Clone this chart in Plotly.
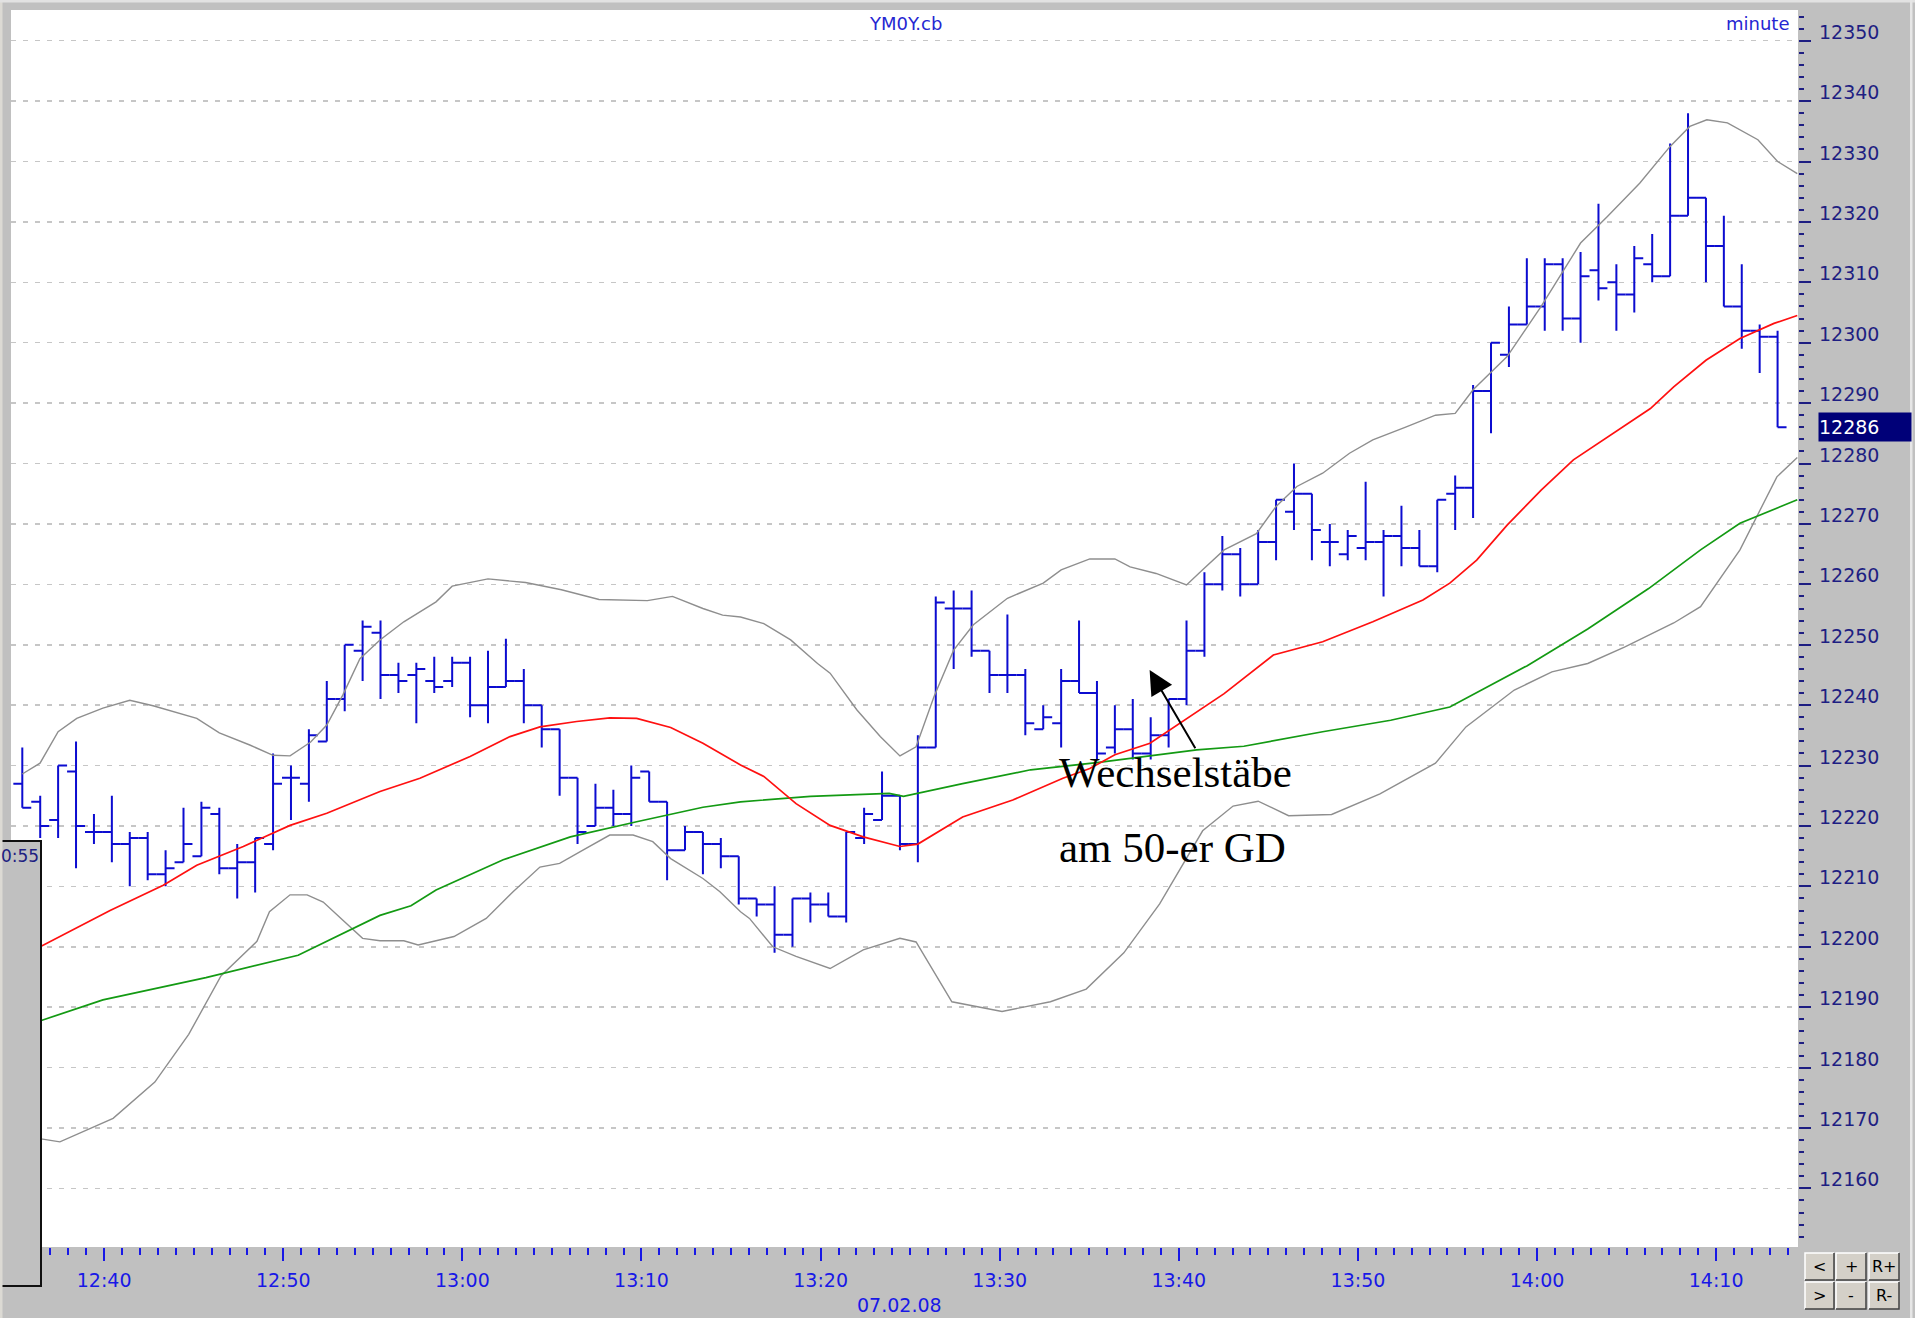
import plotly.graph_objects as go

# ---------------- data ----------------
time_labels = ["12:40", "12:50", "13:00", "13:10", "13:20", "13:30", "13:40", "13:50", "14:00", "14:10"]
first_label_bar = 4.57          # the 12:40 tick sits between bar 4 and bar 5
date_label = "07.02.08"
symbol = "YM0Y.cb"
period = "minute"

opens = [12227, 12224, 12221, 12229, 12219, 12219, 12217, 12218, 12212, 12214,
         12215, 12222, 12213, 12214, 12217, 12228, 12227, 12234, 12241, 12249,
         12252, 12245, 12245, 12244, 12244, 12247, 12240, 12243, 12244, 12240,
         12236, 12228, 12220, 12223, 12222, 12229, 12224, 12216, 12219, 12217,
         12215, 12208, 12207, 12202, 12208, 12207, 12205, 12218, 12221, 12225,
         12217, 12233, 12256, 12256, 12249, 12245, 12245, 12236, 12237, 12244,
         12242, 12233, 12236, 12232, 12235, 12241, 12249, 12260, 12265, 12260,
         12267, 12272, 12275, 12267, 12265, 12266, 12267, 12268, 12266, 12263,
         12275, 12276, 12292, 12298, 12303, 12306, 12313, 12304, 12312, 12310,
         12308, 12313, 12311, 12321, 12324, 12316, 12306, 12302, 12301]
highs = [12233, 12225, 12230, 12234, 12222, 12225, 12219, 12219, 12216, 12223,
         12224, 12223, 12217, 12218, 12232, 12230, 12236, 12244, 12250, 12254,
         12254, 12247, 12247, 12248, 12248, 12248, 12249, 12251, 12246, 12240,
         12236, 12228, 12227, 12226, 12230, 12229, 12224, 12220, 12219, 12218,
         12215, 12208, 12210, 12208, 12209, 12209, 12219, 12223, 12229, 12225,
         12235, 12258, 12259, 12259, 12249, 12255, 12246, 12240, 12246, 12254,
         12244, 12240, 12241, 12238, 12241, 12254, 12262, 12268, 12266, 12269,
         12274, 12280, 12275, 12270, 12269, 12277, 12269, 12273, 12269, 12274,
         12278, 12293, 12300, 12306, 12314, 12314, 12314, 12315, 12323, 12313,
         12316, 12318, 12333, 12338, 12324, 12321, 12313, 12303, 12302]
lows = [12223, 12218, 12218, 12213, 12217, 12214, 12210, 12211, 12210, 12214,
        12215, 12212, 12208, 12209, 12216, 12221, 12224, 12234, 12239, 12244,
        12241, 12242, 12237, 12242, 12243, 12238, 12237, 12243, 12237, 12233,
        12225, 12217, 12220, 12220, 12220, 12224, 12211, 12216, 12212, 12213,
        12207, 12205, 12199, 12200, 12204, 12205, 12204, 12217, 12221, 12216,
        12214, 12233, 12246, 12248, 12242, 12242, 12235, 12236, 12233, 12242,
        12231, 12232, 12231, 12231, 12233, 12240, 12248, 12259, 12258, 12260,
        12264, 12269, 12264, 12263, 12264, 12264, 12258, 12263, 12263, 12262,
        12269, 12271, 12285, 12296, 12303, 12302, 12302, 12300, 12307, 12302,
        12305, 12310, 12311, 12321, 12310, 12306, 12299, 12295, 12286]
closes = [12223, 12220, 12230, 12220, 12219, 12217, 12218, 12212, 12213, 12217,
          12223, 12213, 12214, 12218, 12227, 12228, 12235, 12241, 12250, 12253,
          12245, 12244, 12246, 12243, 12247, 12240, 12243, 12244, 12240, 12236,
          12228, 12219, 12223, 12222, 12228, 12224, 12216, 12219, 12217, 12215,
          12208, 12207, 12202, 12208, 12207, 12205, 12219, 12222, 12225, 12217,
          12233, 12257, 12256, 12249, 12245, 12245, 12237, 12238, 12244, 12242,
          12232, 12236, 12232, 12235, 12241, 12249, 12260, 12265, 12260, 12267,
          12274, 12275, 12269, 12267, 12268, 12267, 12268, 12266, 12263, 12274,
          12276, 12292, 12300, 12303, 12306, 12313, 12304, 12311, 12309, 12308,
          12314, 12311, 12321, 12324, 12316, 12306, 12302, 12301, 12286]

# red moving average (sampled along the bar index)
ma_red_bar = [0, 1.0, 4.9, 7.87, 9.74, 12.34, 14.95, 17.0, 19.97, 22.2, 25.0, 27.23, 28.9,
              30.95, 32.8, 34.3, 36.2, 38.0, 40.1, 41.4, 43.2, 45.1, 46.95, 49.0, 50.0,
              52.5, 55.3, 58.1, 59.6, 61.0, 62.96, 64.8, 67.1, 69.85, 72.6, 75.4, 78.2,
              79.7, 81.2, 82.9, 84.8, 86.6, 88.5, 90.9, 92.2, 94.0, 95.9, 97.8, 99.1]
ma_red_val = [12199.4, 12200.0, 12206.0, 12210.2, 12213.5, 12216.6, 12220.1, 12222.1, 12225.7,
              12227.9, 12231.5, 12234.8, 12236.4, 12237.3, 12237.9, 12237.8, 12236.3, 12233.7,
              12230.1, 12228.2, 12223.7, 12220.1, 12218.2, 12216.6, 12217.0, 12221.5, 12224.3,
              12227.9, 12229.5, 12231.8, 12233.7, 12237.3, 12241.9, 12248.3, 12250.5, 12253.8,
              12257.4, 12260.2, 12264.0, 12269.8, 12275.6, 12280.6, 12284.4, 12289.1, 12292.7,
              12297.1, 12300.7, 12303.2, 12304.5]

# green 50-period average ("50-er GD")
ma_green_bar = [0, 1.06, 4.5, 10.25, 15.4, 19.97, 21.7, 23.1, 26.85, 30.6, 34.3, 38.0, 40.1,
                44.0, 48.4, 49.2, 52.5, 56.3, 60.0, 65.57, 68.2, 72.6, 76.4, 79.7, 84.0,
                87.4, 90.8, 93.7, 95.9, 99.1]
ma_green_val = [12187.5, 12187.8, 12191.2, 12194.9, 12198.6, 12205.2, 12206.8, 12209.4, 12214.4,
                12218.2, 12220.7, 12223.1, 12224.0, 12224.9, 12225.4, 12224.9, 12227.0, 12229.3,
                12230.5, 12232.6, 12233.2, 12235.6, 12237.5, 12239.7, 12246.5, 12252.6, 12259.3,
                12265.7, 12270.1, 12274.0]

# upper Bollinger band
bb_up_bar = [0, 0.99, 2.0, 3.04, 4.5, 6.0, 7.3, 9.74, 11.0, 12.7, 14.0, 14.95, 16.1, 17.0,
             17.9, 18.85, 19.97, 21.3, 23.1, 24.0, 26.0, 28.1, 30.1, 32.2, 34.9, 36.3, 38.0,
             39.1, 40.1, 41.4, 42.9, 44.4, 45.1, 46.6, 47.9, 49.0, 49.9, 50.9, 52.0, 53.1,
             55.0, 57.0, 58.0, 59.6, 61.0, 61.85, 63.3, 65.0, 65.9, 67.1, 68.9, 70.0, 71.16,
             72.6, 74.1, 75.4, 77.2, 78.9, 80.0, 81.0, 82.9, 84.8, 87.0, 88.5, 90.3, 92.0,
             93.1, 94.05, 95.2, 96.9, 98.0, 99.1]
bb_up_val = [12228.6, 12230.4, 12235.6, 12237.8, 12239.5, 12240.8, 12239.9, 12237.8, 12235.4,
             12233.4, 12231.7, 12231.6, 12233.9, 12236.7, 12241.7, 12247.7, 12250.8, 12253.8,
             12257.1, 12259.7, 12260.9, 12260.3, 12259.1, 12257.5, 12257.3, 12258.0, 12256.0,
             12254.9, 12254.6, 12253.5, 12250.8, 12246.9, 12245.3, 12239.2, 12234.8, 12231.6,
             12233.1, 12241.4, 12249.1, 12253.3, 12257.7, 12260.2, 12262.4, 12264.2, 12264.2,
             12262.9, 12261.8, 12259.9, 12262.4, 12265.7, 12268.4, 12272.9, 12276.2, 12278.4,
             12281.7, 12283.9, 12286.0, 12288.0, 12288.3, 12292.2, 12297.7, 12306.0, 12316.5,
             12320.9, 12326.4, 12332.5, 12335.8, 12336.9, 12336.4, 12333.6, 12330.0, 12328.0]

# lower Bollinger band
bb_lo_bar = [0, 1.05, 2.1, 5.07, 7.4, 9.29, 11.1, 13.1, 13.8, 14.95, 15.9, 16.8, 17.9, 19.0,
             19.97, 21.3, 22.1, 24.1, 25.9, 27.4, 28.9, 30.0, 31.3, 32.8, 34.1, 35.2, 36.2,
             38.0, 38.95, 40.1, 40.6, 41.9, 43.2, 45.1, 46.95, 49.0, 49.9, 50.8, 51.9, 54.7,
             57.4, 59.4, 61.5, 63.5, 65.9, 67.6, 69.0, 70.7, 73.1, 75.8, 78.9, 80.6, 83.3,
             85.4, 87.4, 89.45, 92.2, 93.7, 95.9, 97.96, 99.1]
bb_lo_val = [12169.0, 12168.2, 12167.7, 12171.6, 12177.6, 12185.5, 12195.2, 12200.9, 12205.8,
             12208.6, 12208.6, 12207.4, 12204.4, 12201.4, 12201.0, 12201.0, 12200.3, 12201.7,
             12204.7, 12209.1, 12213.2, 12213.8, 12216.0, 12218.5, 12218.5, 12217.4, 12214.6,
             12211.3, 12209.1, 12205.8, 12204.7, 12200.0, 12198.4, 12196.4, 12199.5, 12201.4,
             12200.8, 12196.4, 12190.9, 12189.3, 12190.9, 12193.0, 12199.0, 12207.1, 12219.2,
             12223.3, 12224.1, 12221.7, 12221.9, 12225.3, 12230.4, 12236.4, 12242.5, 12245.5,
             12246.9, 12249.6, 12253.6, 12256.3, 12265.7, 12277.8, 12281.0]

y_ticks = list(range(12160, 12351, 10))
note_line1 = "Wechselstäbe"
note_line2 = "am 50-er GD"
cursor_time = "0:55"
buttons = [["<", "+", "R+"], [">", "-", "R-"]]

# ---------------- styling / layout ----------------
W, H = 1915, 1318
L, R, T, B = 11, 1798, 10, 1247          # plot area in pixels


def fx(p):
    return (p - L) / (R - L)


def fy(p):
    return (B - p) / (B - T)


BAR = "#0c0cd0"
NAVY = "#1e1e82"
BLUE = "#1818e6"
FONT = "DejaVu Sans"

bar_x = list(range(len(opens)))
tickvals = [first_label_bar + 10 * k for k in range(len(time_labels))]

fig = go.Figure()
fig.add_trace(go.Ohlc(
    x=bar_x, open=opens, high=highs, low=lows, close=closes,
    increasing=dict(line=dict(color=BAR, width=2)),
    decreasing=dict(line=dict(color=BAR, width=2)),
    tickwidth=0.5, hoverinfo="skip", showlegend=False))

for bx, by, col, w in [(bb_up_bar, bb_up_val, "#8e8e8e", 1.4),
                       (bb_lo_bar, bb_lo_val, "#8e8e8e", 1.4),
                       (ma_green_bar, ma_green_val, "#139a13", 1.7),
                       (ma_red_bar, ma_red_val, "#ff1010", 1.7)]:
    fig.add_trace(go.Scatter(x=bx, y=by, mode="lines", line=dict(color=col, width=w),
                             hoverinfo="skip", showlegend=False))

shapes = []
# cursor-time box at the lower left
shapes.append(dict(type="rect", xref="paper", yref="paper", layer="above",
                   x0=fx(-3), x1=fx(41), y0=fy(1286), y1=fy(841),
                   fillcolor="#c0c0c0", line=dict(color="#101010", width=2)))
# window edges
shapes.append(dict(type="rect", xref="paper", yref="paper", layer="above",
                   x0=fx(0), x1=fx(2.5), y0=fy(H), y1=fy(0),
                   fillcolor="#dcdad4", line=dict(width=0)))
shapes.append(dict(type="rect", xref="paper", yref="paper", layer="above",
                   x0=fx(0), x1=fx(W), y0=fy(2.5), y1=fy(0),
                   fillcolor="#e2e2e2", line=dict(width=0)))
shapes.append(dict(type="rect", xref="paper", yref="paper", layer="above",
                   x0=fx(1910), x1=fx(1912.5), y0=fy(H), y1=fy(0),
                   fillcolor="#e6e6e6", line=dict(width=0)))

annotations = []
# price labels of the right axis, sitting just above their grid lines
for v in y_ticks:
    annotations.append(dict(xref="paper", yref="y", x=fx(1817), y=v, text=str(v),
                            showarrow=False, font=dict(family=FONT, size=19, color=NAVY),
                            xanchor="left", yanchor="middle", yshift=9))

# buttons at the lower right
cols = [(1805, 1834), (1836, 1866), (1869, 1899)]
rows = [(1253, 1280), (1282, 1309)]
for r_i, (ry0, ry1) in enumerate(rows):
    for c_i, (cx0, cx1) in enumerate(cols):
        shapes.append(dict(type="rect", xref="paper", yref="paper", layer="above",
                           x0=fx(cx0), x1=fx(cx1), y0=fy(ry1), y1=fy(ry0),
                           fillcolor="#d4d0c8", line=dict(width=0)))
        shapes.append(dict(type="path", xref="paper", yref="paper", layer="above",
                           path=f"M {fx(cx0)},{fy(ry1)} L {fx(cx0)},{fy(ry0)} L {fx(cx1)},{fy(ry0)}",
                           line=dict(color="#ffffff", width=1.5)))
        shapes.append(dict(type="path", xref="paper", yref="paper", layer="above",
                           path=f"M {fx(cx0)},{fy(ry1)} L {fx(cx1)},{fy(ry1)} L {fx(cx1)},{fy(ry0)}",
                           line=dict(color="#404040", width=1.5)))
        annotations.append(dict(xref="paper", yref="paper", x=fx((cx0 + cx1) / 2),
                                y=fy((ry0 + ry1) / 2), text=buttons[r_i][c_i], showarrow=False,
                                font=dict(family=FONT, size=16, color="#000000"),
                                xanchor="center", yanchor="middle"))

annotations += [
    dict(xref="paper", yref="paper", x=fx(905), y=fy(24), text=symbol, showarrow=False,
         font=dict(family=FONT, size=18, color="#2626d2"), xanchor="center", yanchor="middle"),
    dict(xref="paper", yref="paper", x=fx(1791), y=fy(24), text=period, showarrow=False,
         font=dict(family=FONT, size=18, color="#2626d2"), xanchor="right", yanchor="middle"),
    dict(xref="paper", yref="paper", x=fx(899), y=fy(1305), text=date_label, showarrow=False,
         font=dict(family=FONT, size=19, color=BLUE), xanchor="center", yanchor="middle"),
    dict(xref="paper", yref="paper", x=fx(40), y=fy(856), text=cursor_time, showarrow=False,
         font=dict(family=FONT, size=17, color=NAVY), xanchor="right", yanchor="middle",
         borderpad=0),
    dict(xref="paper", yref="y", x=fx(1818), y=closes[-1], text=str(closes[-1]), showarrow=False,
         font=dict(family=FONT, size=19, color="#ffffff"), bgcolor="#000078",
         xanchor="left", yanchor="middle", align="left", width=92, height=28, borderpad=0),
    dict(xref="paper", yref="paper", x=fx(1057), y=fy(772), text=note_line1, showarrow=False,
         font=dict(family="Liberation Serif", size=43, color="#000000"),
         xanchor="left", yanchor="middle"),
    dict(xref="paper", yref="paper", x=fx(1057), y=fy(847), text=note_line2, showarrow=False,
         font=dict(family="Liberation Serif", size=43, color="#000000"),
         xanchor="left", yanchor="middle"),
    dict(xref="x", yref="y", x=62.94, y=12245.8, axref="x", ayref="y", ax=65.54, ay=12232.6,
         text="", showarrow=True, arrowhead=2, arrowsize=2.4, arrowwidth=2, arrowcolor="#000000"),
]

fig.update_layout(
    width=W, height=H, autosize=False,
    margin=dict(l=L, r=W - R, t=T, b=H - B, pad=0),
    paper_bgcolor="#c0c0c0", plot_bgcolor="#ffffff",
    showlegend=False, dragmode=False,
    shapes=shapes, annotations=annotations,
    xaxis=dict(range=[-0.631, 99.14], tickmode="array", tickvals=tickvals, ticktext=time_labels,
               ticks="outside", ticklen=13, tickwidth=2, tickcolor=BLUE,
               tickfont=dict(family=FONT, size=19, color=BLUE), ticklabelstandoff=3,
               showgrid=False, zeroline=False, showline=False, fixedrange=True,
               rangeslider=dict(visible=False),
               minor=dict(tickmode="linear", tick0=first_label_bar - 4, dtick=1, ticks="outside",
                          ticklen=7, tickwidth=2, tickcolor=BLUE, showgrid=False)),
    yaxis=dict(range=[12150.3, 12355.08], side="right", tickmode="array", tickvals=y_ticks,
               showticklabels=False,
               ticks="outside", ticklen=12, tickwidth=2, tickcolor=NAVY,
               showgrid=True, gridcolor="#c6c6c6", gridwidth=1.5, griddash="5px,7px",
               zeroline=False, showline=False, fixedrange=True,
               minor=dict(tickmode="linear", tick0=12160, dtick=2, ticks="outside",
                          ticklen=5, tickwidth=2, tickcolor=NAVY, showgrid=False)),
)

fig.write_html(
    "out.html",
    config={"displayModeBar": False, "staticPlot": True},
    post_script="document.body.style.margin='0';document.body.style.padding='0';"
                "document.body.style.background='#c0c0c0';"
                "document.documentElement.style.overflow='hidden';",
)
